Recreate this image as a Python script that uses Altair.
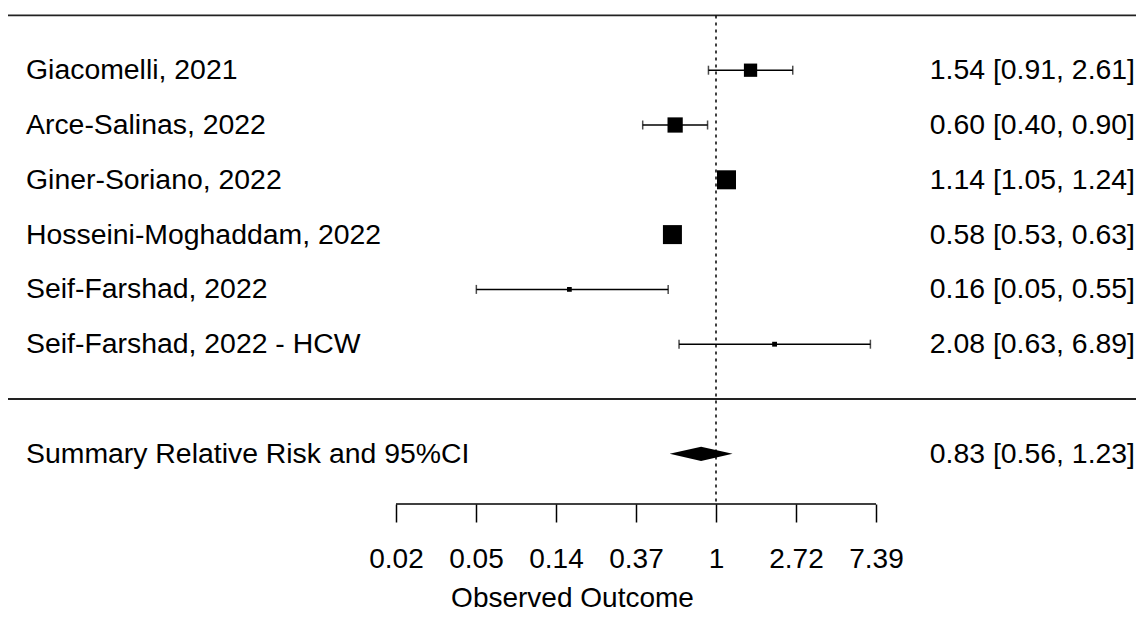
import altair as alt
import numpy as np
import pandas as pd

# ---- data ----
studies = [
    "Giacomelli, 2021",
    "Arce-Salinas, 2022",
    "Giner-Soriano, 2022",
    "Hosseini-Moghaddam, 2022",
    "Seif-Farshad, 2022",
    "Seif-Farshad, 2022 - HCW",
]
rr = [1.54, 0.60, 1.14, 0.58, 0.16, 2.08]
ci_low = [0.91, 0.40, 1.05, 0.53, 0.05, 0.63]
ci_high = [2.61, 0.90, 1.24, 0.63, 0.55, 6.89]
weights = [17.3, 19.4, 23.4, 23.4, 8.2, 8.3]  # random-effects weights (%)

summary_label = "Summary Relative Risk and 95%CI"
summary_rr = [0.83]
summary_low = [0.56]
summary_high = [1.23]

tick_values = [-4, -3, -2, -1, 0, 1, 2]
tick_labels = ["0.02", "0.05", "0.14", "0.37", "1", "2.72", "7.39"]
x_title = "Observed Outcome"

# ---- layout / style ----
W, H = 1128, 496
TOTAL_H = 604
FONT = "Liberation Sans"
FS = 28
FS_TXT = 28.4
k = len(studies)
rows = list(range(k, 0, -1))
top_row = k + 1
sum_row = -1

xscale = alt.Scale(domain=[-8.85, 5.25], nice=False, zero=False)
yscale = alt.Scale(domain=[-1.916, 7.135], nice=False, zero=False)

label_expr = " : ".join(
    f"datum.value == {v} ? '{l}'" for v, l in zip(tick_values, tick_labels)
) + " : ''"

AX = alt.Axis(
    values=tick_values, labelExpr=label_expr, domain=False, grid=False,
    tickSize=18, tickWidth=1.5, tickColor="black",
    labelFont=FONT, labelFontSize=FS, labelColor="black", labelPadding=23,
    title=x_title, titleFont=FONT, titleFontSize=FS, titleFontWeight="normal",
    titleColor="black", titlePadding=11,
)


def X(field):
    return alt.X(field, scale=xscale, axis=AX)


def Yq(field):
    return alt.Y(field, scale=yscale, axis=None)


df = pd.DataFrame({
    "study": studies,
    "rr": rr,
    "lo": ci_low,
    "hi": ci_high,
    "w": weights,
    "row": rows,
})
df["lrr"] = np.log(df["rr"])
df["llo"] = np.log(df["lo"])
df["lhi"] = np.log(df["hi"])
df["txt"] = [f"{a:.2f} [{b:.2f}, {c:.2f}]" for a, b, c in zip(rr, ci_low, ci_high)]
wmin, wmax = min(weights), max(weights)
psize = 0.5 + 1.5 * (df["w"] - wmin) / (wmax - wmin)
df["area"] = (9.5 * psize) ** 2

base = alt.Chart(df)

# horizontal separator lines
lines = alt.Chart(pd.DataFrame({"row": [top_row, 0]})).mark_rule(
    color="#222", strokeWidth=1.8
).encode(y=Yq("row:Q"))

# dotted reference line at RR=1
ref = alt.Chart(pd.DataFrame({"x": [0.0], "row": [top_row]})).mark_rule(
    color="black", strokeWidth=1.5, strokeDash=[3, 4]
).encode(x=X("x:Q"), y=Yq("row:Q"), y2=alt.value(H))

# axis domain line only between first and last tick
axis_line = alt.Chart(pd.DataFrame({"a": [min(tick_values)], "b": [max(tick_values)]})).mark_rule(
    color="black", strokeWidth=1.5
).encode(x=X("a:Q"), x2="b:Q", y=alt.value(H))

ci = base.mark_rule(color="black", strokeWidth=1.5).encode(
    x=X("llo:Q"), x2="lhi:Q", y=Yq("row:Q")
)

caps = base.transform_fold(["llo", "lhi"], as_=["end", "v"]).mark_tick(
    orient="vertical", size=9, thickness=1.5, color="black"
).encode(x=X("v:Q"), y=Yq("row:Q"))

squares = base.mark_square(filled=True, color="black", opacity=1).encode(
    x=X("lrr:Q"), y=Yq("row:Q"),
    size=alt.Size("area:Q", scale=None, legend=None),
)

left_txt = base.mark_text(
    align="left", baseline="middle", font=FONT, fontSize=FS_TXT, color="black"
).encode(x=alt.value(18), y=Yq("row:Q"), text="study:N")

right_txt = base.mark_text(
    align="right", baseline="middle", font=FONT, fontSize=FS_TXT, color="black"
).encode(x=alt.value(W - 1), y=Yq("row:Q"), text="txt:N")

# summary
sdf = pd.DataFrame({
    "label": [summary_label],
    "row": [sum_row],
    "txt": [f"{summary_rr[0]:.2f} [{summary_low[0]:.2f}, {summary_high[0]:.2f}]"],
})
s_left = alt.Chart(sdf).mark_text(
    align="left", baseline="middle", font=FONT, fontSize=FS_TXT, color="black"
).encode(x=alt.value(18), y=Yq("row:Q"), text="label:N")
s_right = alt.Chart(sdf).mark_text(
    align="right", baseline="middle", font=FONT, fontSize=FS_TXT, color="black"
).encode(x=alt.value(W - 1), y=Yq("row:Q"), text="txt:N")

hh = 0.13
ddf = pd.DataFrame({
    "x": np.log([summary_low[0], summary_rr[0], summary_high[0]]),
    "yt": [sum_row, sum_row + hh, sum_row],
    "yb": [sum_row, sum_row - hh, sum_row],
})
diamond = alt.Chart(ddf).mark_area(color="black", orient="vertical", opacity=1).encode(
    x=X("x:Q"), y=Yq("yt:Q"), y2="yb:Q",
)

chart = alt.layer(
    lines, ref, axis_line, ci, caps, squares, left_txt, right_txt, s_left, s_right, diamond
).properties(
    width=W, height=H,
    autosize=alt.AutoSizeParams(type="none"),
    padding={"left": 0, "top": 0, "right": 0, "bottom": TOTAL_H - H},
    background="white",
).configure_view(stroke=None)

chart.save("out.html", embed_options={"renderer": "svg", "actions": False})
